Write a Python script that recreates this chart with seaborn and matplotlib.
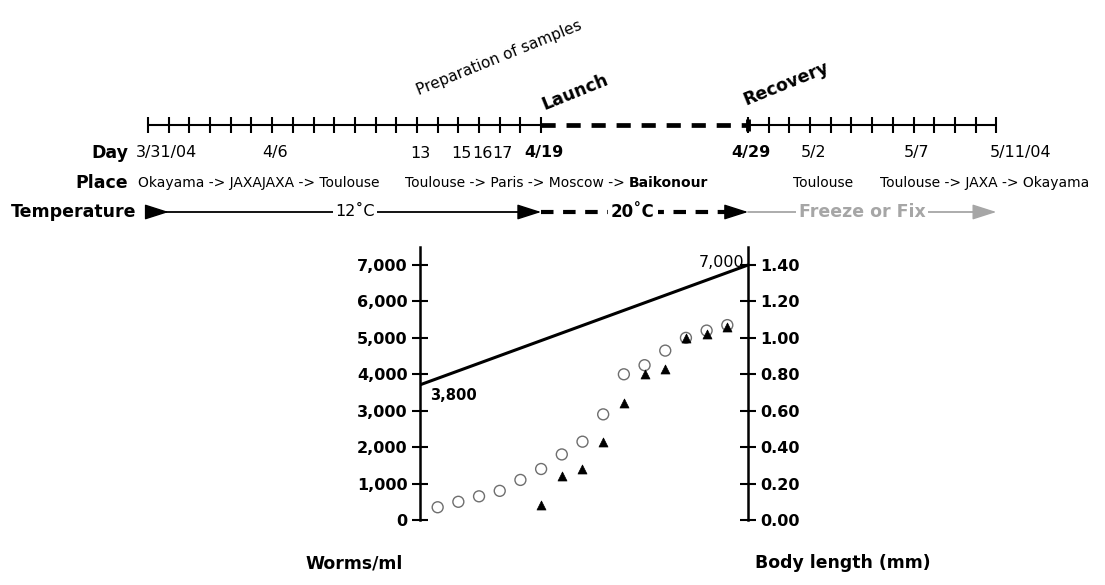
import numpy as np
import pandas as pd
import seaborn as sns
import matplotlib.pyplot as plt
from matplotlib.ticker import FuncFormatter

# ---- data (days counted from 3/31/04) ----
ground_days = list(range(0, 20))        # 3/31 .. 4/19, one tick per day
return_days = list(range(29, 42))       # 4/29 .. 5/11
launch_day, recovery_day = 19, 29

day_label_days = [0, 6, 13, 15, 16, 17, 19, 29, 32, 37, 41]
day_label_text = ["3/31/04", "4/6", "13", "15", "16", "17", "4/19", "4/29", "5/2", "5/7", "5/11/04"]
day_label_bold = [False, False, False, False, False, False, True, True, False, False, False]

temp_start = [0, 19, 29]
temp_end = [19, 29, 41]
temp_text = ["12˚C", "20˚C", "Freeze or Fix"]

# worms per ml (left axis)
worm_days = [13, 29]
worm_count = [3680, 7000]

# body length in mm (right axis), two series
circle_days = list(range(14, 29))
circle_len = [0.07, 0.10, 0.13, 0.16, 0.22, 0.28, 0.36, 0.43, 0.58, 0.80, 0.85, 0.93, 1.00, 1.04, 1.07]
tri_days = list(range(19, 29))
tri_len = [0.08, 0.24, 0.28, 0.43, 0.64, 0.80, 0.83, 1.00, 1.02, 1.06]

sns.set_style("white")
plt.rcParams["font.family"] = ["DejaVu Sans"]
plt.rcParams.update({"text.color": "black", "axes.labelcolor": "black",
                     "xtick.color": "black", "ytick.color": "black",
                     "axes.edgecolor": "black"})

W, H = 1105, 585
DAY0_PX, PX_PER_DAY = 148, 20.69


def day_at(px):
    # figure pixel column -> day number on the shared time scale
    return (px - DAY0_PX) / PX_PER_DAY


fig = plt.figure(figsize=(W / 100, H / 100), dpi=100)

# timeline panel over the whole figure: x in days, y in pixels from the top
axt = fig.add_axes([0, 0, 1, 1])
axt.set_xlim(day_at(0), day_at(W))
axt.set_ylim(H, 0)
axt.axis("off")

y_line, y_day, y_place, y_temp = 125, 153, 183, 212
dash = (0, (3.0, 2.3))
grey = "#a6a6a6"

for days in (ground_days, return_days):
    axt.plot(days, [y_line] * len(days), color="black", lw=1.5,
             marker="|", ms=12, mew=1.5)
axt.plot([launch_day, recovery_day], [y_line] * 2, color="black", lw=3.4, ls=dash)
axt.plot([recovery_day], [y_line], color="black", marker="|", ms=9, mew=3.5)

# day labels
for d, t, b in zip(day_label_days, day_label_text, day_label_bold):
    if t == "3/31/04":
        axt.text(day_at(136), y_day, t, ha="left", va="center", fontsize=11.5)
    elif t == "5/11/04":
        axt.text(day_at(990), y_day, t, ha="left", va="center", fontsize=11.5)
    else:
        axt.text(d + 0.15, y_day, t, ha="center", va="center", fontsize=11.5,
                 fontweight="bold" if b else "normal")

# row titles
axt.text(day_at(128), y_day, "Day", ha="right", va="center", fontsize=12.5, fontweight="bold")
axt.text(day_at(128), y_place, "Place", ha="right", va="center", fontsize=12.5, fontweight="bold")
axt.text(day_at(136), y_temp, "Temperature", ha="right", va="center", fontsize=12.5, fontweight="bold")

# places
axt.text(day_at(138), y_place, "Okayama -> JAXAJAXA -> Toulouse", ha="left", va="center", fontsize=10)
t_mid = axt.text(day_at(405), y_place, "Toulouse -> Paris -> Moscow -> ", ha="left", va="center", fontsize=10)
axt.annotate("Baikonour", xy=(1, 0.5), xycoords=t_mid, ha="left", va="center",
             fontsize=10, fontweight="bold")
axt.text(day_at(823), y_place, "Toulouse", ha="center", va="center", fontsize=10)
axt.text(day_at(880), y_place, "Toulouse -> JAXA -> Okayama", ha="left", va="center", fontsize=10)

# rotated event labels
axt.text(day_at(499), 58, "Preparation of samples", rotation=22, rotation_mode="anchor",
         ha="center", va="center", fontsize=11)
axt.text(day_at(575), 92, "Launch", rotation=22, rotation_mode="anchor",
         ha="center", va="center", fontsize=12.5, fontweight="bold")
axt.text(day_at(786), 84, "Recovery", rotation=22, rotation_mode="anchor",
         ha="center", va="center", fontsize=12.5, fontweight="bold")

# temperature arrows
head = "-|>,head_length=0.75,head_width=0.24"
temp_style = [dict(color="black", lw=1.3, ls="-"),
              dict(color="black", lw=3.0, ls=dash),
              dict(color=grey, lw=1.3, ls="-")]
for s, e, st in zip(temp_start, temp_end, temp_style):
    axt.plot([s, e - 0.5], [y_temp] * 2, **st)
    axt.annotate("", xy=(e, y_temp), xytext=(e - 1, y_temp),
                 arrowprops=dict(arrowstyle=head, color=st["color"], lw=1,
                                 mutation_scale=20, shrinkA=0, shrinkB=0))
axt.annotate("", xy=(temp_start[0] + 1, y_temp), xytext=(temp_start[0], y_temp),
             arrowprops=dict(arrowstyle=head, color="black", lw=1,
                             mutation_scale=20, shrinkA=0, shrinkB=0))
box = dict(fc="white", ec="none", pad=2)
axt.text(day_at(355), y_temp, temp_text[0], ha="center", va="center", fontsize=11.5, bbox=box)
axt.text(day_at(633), y_temp, temp_text[1], ha="center", va="center", fontsize=12,
         fontweight="bold", bbox=box)
axt.text(day_at(862), y_temp, temp_text[2], ha="center", va="center", fontsize=12.5,
         fontweight="bold", color=grey, bbox=box)

# axis captions
axt.text(day_at(354), 563, "Worms/ml", ha="center", va="center", fontsize=12.4, fontweight="bold")
axt.text(day_at(843), 563, "Body length (mm)", ha="center", va="center", fontsize=12.4, fontweight="bold")

# ---- main chart ----
ax_l, ax_r, ax_t, ax_b = 420, 748.3, 246.8, 520
ax = fig.add_axes([ax_l / W, (H - ax_b) / H, (ax_r - ax_l) / W, (ax_b - ax_t) / H])
ax.patch.set_alpha(0)
ax2 = ax.twinx()
ax2.patch.set_alpha(0)

worm_df = pd.DataFrame({"day": worm_days, "worms": worm_count})
circ_df = pd.DataFrame({"day": circle_days, "length": circle_len})
tri_df = pd.DataFrame({"day": tri_days, "length": tri_len})

sns.lineplot(data=worm_df, x="day", y="worms", ax=ax, color="black", lw=2.2)
sns.scatterplot(data=circ_df, x="day", y="length", ax=ax2, marker="o", s=62,
                facecolor="none", edgecolor="#6e6e6e", linewidth=1.0, zorder=3)
sns.scatterplot(data=tri_df, x="day", y="length", ax=ax2, marker="^", s=42,
                color="black", edgecolor="black", linewidth=0.5, zorder=4)

ax.set_xlim(day_at(ax_l), day_at(ax_r))
ax2.set_xlim(day_at(ax_l), day_at(ax_r))
ax.set_ylim(0, 7500)
ax2.set_ylim(0, 1.5)

ax.set_yticks(range(0, 7001, 1000))
ax.yaxis.set_major_formatter(FuncFormatter(lambda v, p: f"{v:,.0f}"))
ax2.set_yticks(np.arange(0, 1.41, 0.2))
ax2.yaxis.set_major_formatter(FuncFormatter(lambda v, p: f"{v:.2f}"))
ax.set_xticks([])
for a in (ax, ax2):
    a.set_xlabel("")
    a.set_ylabel("")
    a.tick_params(axis="y", direction="inout", length=11.5, width=1.5, pad=3,
                  labelsize=11.5, colors="black")
    for lbl in a.get_yticklabels():
        lbl.set_fontweight("bold")

for s in ("top", "bottom", "right"):
    ax.spines[s].set_visible(False)
for s in ("top", "bottom", "left"):
    ax2.spines[s].set_visible(False)
ax.spines["left"].set_linewidth(1.8)
ax2.spines["right"].set_linewidth(1.8)

ax.text(day_at(430), 3410, "3,800", ha="left", va="center", fontsize=10.6, fontweight="bold")
ax.text(day_at(744), 7080, "7,000", ha="right", va="center", fontsize=11.5)

fig.savefig("out.png", dpi=100)
